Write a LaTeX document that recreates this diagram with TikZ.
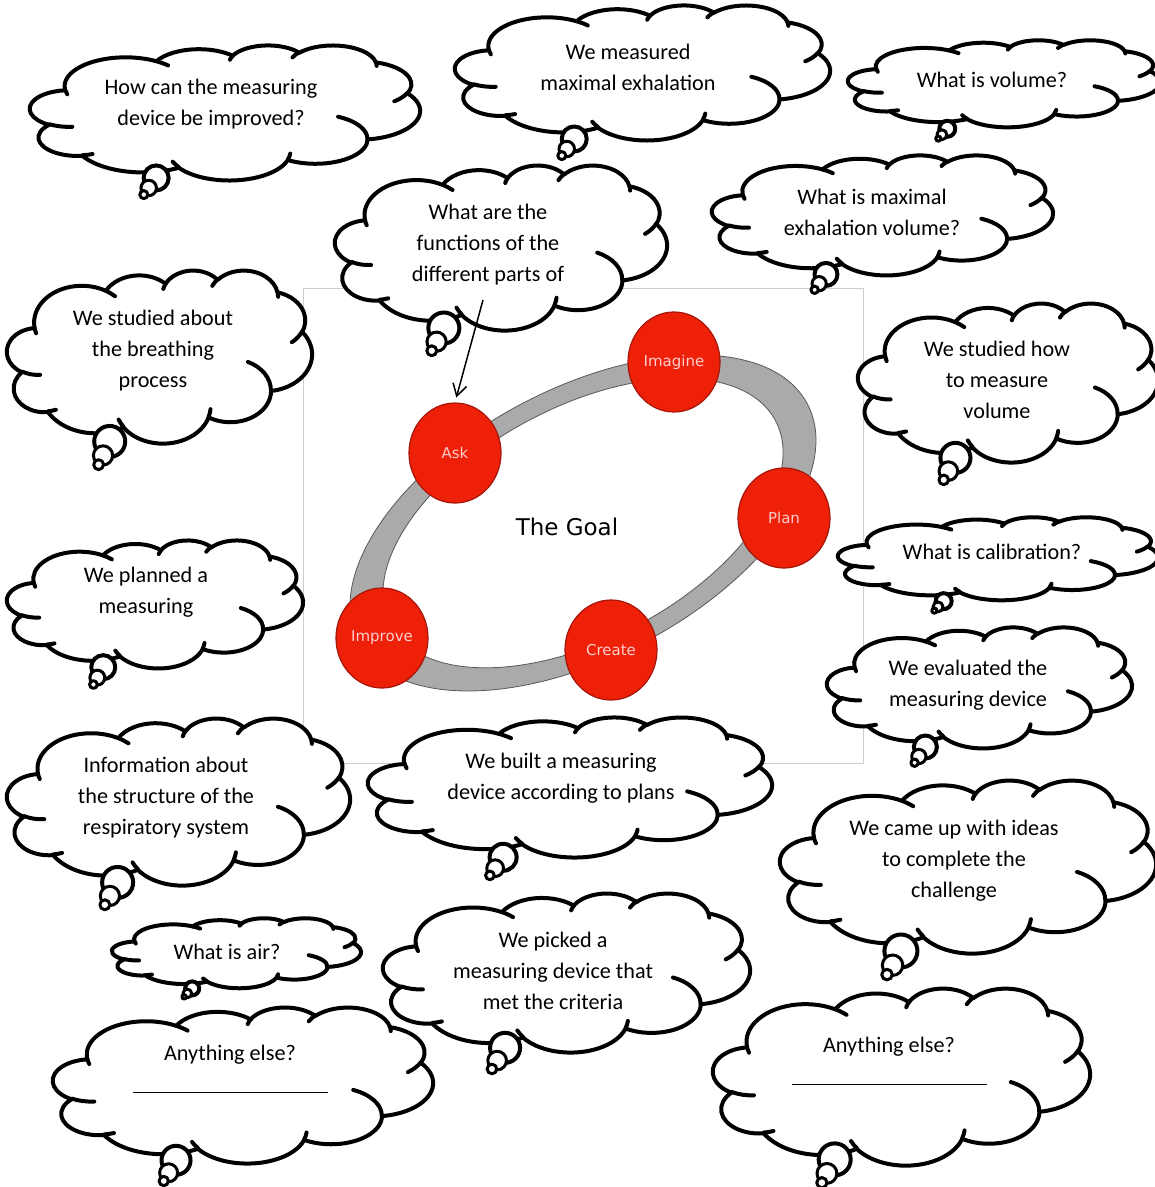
\documentclass[tikz,border=0pt]{standalone}
\usepackage{fontspec}
\setmainfont{Carlito}
\newfontfamily\goalfont{DejaVu Sans}
\usetikzlibrary{arrows.meta,positioning,calc,shapes.geometric}
\definecolor{goalred}{RGB}{238,32,8}
\definecolor{goalredline}{RGB}{165,22,10}
\definecolor{goalpink}{RGB}{255,205,205}
\definecolor{ringgray}{RGB}{170,170,170}
\definecolor{framegray}{RGB}{205,205,205}

\tikzset{
  cloudline/.style={draw=black, fill=white, line width=4pt, line join=round},
  thoughttext/.style={align=center, inner sep=0pt,
    font=\fontsize{22.2}{31}\selectfont},
  stage/.style={ellipse, draw=goalredline, line width=1.2pt, fill=goalred,
    minimum width=92pt, minimum height=100pt, inner sep=0pt, text=goalpink,
    font=\goalfont\fontsize{15}{15}\selectfont},
}

% cloud outline in a 432 x 432 box: left, top, width, height
\newcommand{\thoughtcloud}[4]{%
  \pgfmathsetmacro{\cloudxu}{#3/432}%
  \pgfmathsetmacro{\cloudyu}{#4/432}%
  \begin{scope}[shift={(#1,#2)}, x=\cloudxu pt, y=-\cloudyu pt]
    \path[cloudline] (39.00,143.70)
      arc[start angle=-187.75, end angle=-59.63, x radius=67.53, y radius=91.90]
      arc[start angle=-152.03, end angle=-45.44, x radius=53.33, y radius=72.67]
      arc[start angle=-153.48, end angle=-37.33, x radius=43.65, y radius=59.45]
      arc[start angle=-139.69, end angle=-10.21, x radius=48.57, y radius=65.95]
      arc[start angle=-74.77, end angle=23.21, x radius=53.33, y radius=72.73]
      arc[start angle=-37.52, end angle=81.86, x radius=67.75, y radius=92.20]
      arc[start angle=0.46, end angle=121.98, x radius=57.85, y radius=78.67]
      arc[start angle=16.84, end angle=146.24, x radius=67.52, y radius=92.15]
      arc[start angle=58.99, end angle=150.20, x radius=77.20, y radius=105.43]
      arc[start angle=-276.69, end angle=-136.90, x radius=43.60, y radius=59.18]
      arc[start angle=-239.64, end angle=-95.89, x radius=43.45, y radius=59.45]
      -- cycle;
    \draw[cloudline, fill=none, line cap=round]
      (46.93,261.77) arc[start angle=85.55, end angle=120.36, x radius=43.45, y radius=59.45]
      (69.28,348.99) arc[start angle=68.24, end angle=83.31, x radius=43.60, y radius=59.18]
      (164.78,390.90) arc[start angle=146.24, end angle=158.47, x radius=67.52, y radius=92.15]
      (288.27,347.51) arc[start angle=4.74, end angle=16.84, x radius=67.52, y radius=92.15]
      (341.29,229.54) arc[start angle=-64.03, end angle=0.46, x radius=57.85, y radius=78.67]
      (417.98,153.54) arc[start angle=23.21, end angle=49.65, x radius=53.33, y radius=72.73]
      (383.24,54.26) arc[start angle=-10.21, end angle=0.82, x radius=48.57, y radius=65.95]
      (290.78,39.52) arc[start angle=-156.29, end angle=-139.69, x radius=48.57, y radius=65.95]
      (221.41,47.20) arc[start angle=-167.73, end angle=-153.48, x radius=43.65, y radius=59.45]
      (140.00,51.92) arc[start angle=-59.63, end angle=-45.71, x radius=67.53, y radius=91.90]
      (41.27,157.89) arc[start angle=163.19, end angle=172.25, x radius=67.53, y radius=91.90];
  \end{scope}}

% thought bubbles: tip, cloud text node, size
\newcommand{\thoughttail}[3]{%
  \pgfmathsetmacro{\tailbig}{0.95*#3}%
  \pgfmathsetmacro{\tailmid}{0.45*#3}%
  \pgfmathsetmacro{\tailend}{0.12*#3}%
  \draw[cloudline] ($(#1)!\tailbig pt!(#2)$) circle[radius=0.5*#3];
  \draw[cloudline, line width=3pt] ($(#1)!\tailmid pt!(#2)$) circle[radius=0.31*#3];
  \draw[cloudline, line width=3pt] ($(#1)!\tailend pt!(#2)$) circle[radius=0.16*#3];}

\begin{document}
\begin{tikzpicture}[x=1pt,y=-1pt]
    \useasboundingbox (0,0) rectangle (1155,1187);

    % The picture in the middle
    \node[draw=framegray, line width=0.8pt, fill=white, minimum width=560pt,
      minimum height=475pt, inner sep=0pt] (frame) at (583,525.5) {};
    \fill[ringgray, draw=gray!70!black, line width=0.8pt, even odd rule,
      rotate around={28:(583,523)}]
      (583,523) ellipse [x radius=254, y radius=134]
      (583,523) ellipse [x radius=218, y radius=116];
    \node[stage] (ask) at (455,453) {Ask};
    \node[stage] (imagine) at (674,362) {Imagine};
    \node[stage] (plan) at (784,518) {Plan};
    \node[stage] (create) at (611,650) {Create};
    \node[stage] (improve) at (382,638) {Improve};
    \node[font=\goalfont\fontsize{23}{23}\selectfont] (goal) at (567,527) {The Goal};

    % Clouds
    \thoughtcloud{30}{45}{390}{135}
    \node[thoughttext] (improved) at (211,104) {How can the measuring\\device be improved?};
    \thoughttail{142,197}{improved}{25}

    \thoughtcloud{455}{5}{375}{135}
    \node[thoughttext] (measured) at (628,67) {We measured\\maximal exhalation};
    \thoughttail{560,158}{measured}{25}

    \thoughtcloud{848}{40}{312}{87}
    \node[thoughttext] (volume) at (992,80) {What is volume?};
    \thoughttail{937,140}{volume}{16}

    \thoughtcloud{335}{165}{332}{165}
    \node[thoughttext] (functions) at (488,245) {What are the\\functions of the\\different parts of};
    \thoughttail{430,354}{functions}{31}

    \thoughtcloud{712}{155}{341}{120}
    \node[thoughttext] (maxvolume) at (872,212) {What is maximal\\exhalation volume?};
    \thoughttail{813,292}{maxvolume}{23}

    \thoughtcloud{7}{270}{305}{173}
    \node[thoughttext] (breathing) at (153,351) {We studied about\\the breathing\\process};
    \thoughttail{97,468}{breathing}{31}

    \thoughtcloud{858}{303}{300}{159}
    \node[thoughttext] (howvolume) at (997,380) {We studied how\\to measure\\volume};
    \thoughttail{942,483}{howvolume}{30}

    \thoughtcloud{838}{517}{320}{83}
    \node[thoughttext] (calibration) at (992,552) {What is calibration?};
    \thoughttail{933,612}{calibration}{16}

    \thoughtcloud{7}{540}{296}{128}
    \node[thoughttext] (planned) at (146,592) {We planned a\\measuring};
    \thoughttail{92,687}{planned}{24}

    \thoughtcloud{827}{627}{305}{121}
    \node[thoughttext] (evaluated) at (968,685) {We evaluated the\\measuring device};
    \thoughttail{913,765}{evaluated}{23}

    \thoughtcloud{7}{718}{343}{167}
    \node[thoughttext] (structure) at (166,798) {Information about\\the structure of the\\respiratory system};
    \thoughttail{103,908}{structure}{31}

    \thoughtcloud{368}{717}{404}{140}
    \node[thoughttext] (built) at (561,778) {We built a measuring\\device according to plans};
    \thoughttail{488,878}{built}{27}

    \thoughtcloud{780}{780}{376}{173}
    \node[thoughttext] (ideas) at (954,861) {We came up with ideas\\to complete the\\challenge};
    \thoughttail{885,978}{ideas}{33}

    \thoughtcloud{112}{918}{249}{70}
    \node[thoughttext] (air) at (227,952) {What is air?};
    \thoughttail{183,998}{air}{14}

    \thoughtcloud{383}{893}{367}{159}
    \node[thoughttext] (picked) at (553,971) {We picked a\\measuring device that\\met the criteria};
    \thoughttail{490,1072}{picked}{30}

    \thoughtcloud{53}{1007}{380}{156}
    \node[thoughttext] (elseleft) at (230,1069) {Anything else?\\[2pt]\rule{195pt}{0.9pt}};
    \thoughttail{162,1184}{elseleft}{29}

    \thoughtcloud{713}{988}{377}{177}
    \node[thoughttext] (elseright) at (889,1061) {Anything else?\\[2pt]\rule{195pt}{0.9pt}};
    \thoughttail{820,1186}{elseright}{32}

    % Arrow
    \coordinate (askarrow) at (483,300);
    \draw[-{Straight Barb[length=12pt,width=14pt]}, line width=1.5pt,
      shorten >=5pt] (askarrow) -- (ask.north);
\end{tikzpicture}
\end{document}
